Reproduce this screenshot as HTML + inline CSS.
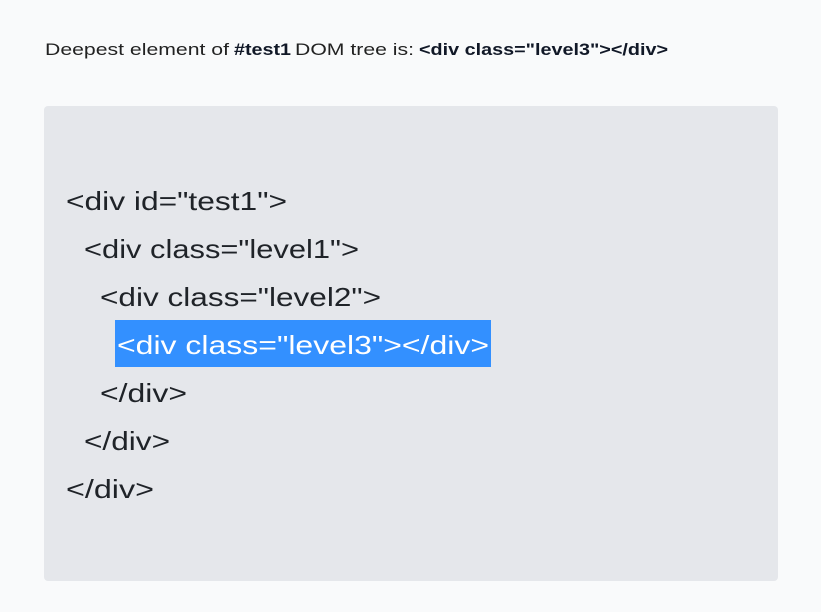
<!DOCTYPE html>
<html><head><meta charset="utf-8"><style>
html,body{margin:0;padding:0;background:#f9fafb;}
svg{display:block;}
text{font-family:"Liberation Sans",sans-serif;}
</style></head><body>
<svg width="821" height="612" viewBox="0 0 821 612" xmlns="http://www.w3.org/2000/svg">
<rect x="0" y="0" width="821" height="612" fill="#f9fafb"/>
<g font-size="17" fill="#111827">
<text x="45" y="55" textLength="184" lengthAdjust="spacingAndGlyphs" fill="#222">Deepest element of</text>
<text x="234" y="55" textLength="57" lengthAdjust="spacingAndGlyphs" font-weight="bold">#test1</text>
<text x="295" y="55" textLength="119" lengthAdjust="spacingAndGlyphs" fill="#222">DOM tree is:</text>
<text x="419" y="55" textLength="249" lengthAdjust="spacingAndGlyphs" font-weight="bold">&lt;div class="level3"&gt;&lt;/div&gt;</text>
</g>
<rect x="44" y="106" width="734" height="475" rx="4" fill="#e5e7eb"/>
<rect x="115" y="320" width="376" height="47" fill="#3390ff"/>
<g font-size="26" fill="#1f2328">
<text x="66" y="210" textLength="221" lengthAdjust="spacingAndGlyphs">&lt;div id="test1"&gt;</text>
<text x="84" y="258" textLength="275" lengthAdjust="spacingAndGlyphs">&lt;div class="level1"&gt;</text>
<text x="100" y="306" textLength="281" lengthAdjust="spacingAndGlyphs">&lt;div class="level2"&gt;</text>
<text x="117" y="354" textLength="372" lengthAdjust="spacingAndGlyphs" fill="#ffffff">&lt;div class="level3"&gt;&lt;/div&gt;</text>
<text x="100" y="402" textLength="87" lengthAdjust="spacingAndGlyphs">&lt;/div&gt;</text>
<text x="84" y="450" textLength="86" lengthAdjust="spacingAndGlyphs">&lt;/div&gt;</text>
<text x="66" y="498" textLength="88" lengthAdjust="spacingAndGlyphs">&lt;/div&gt;</text>
</g>
</svg>
</body></html>
